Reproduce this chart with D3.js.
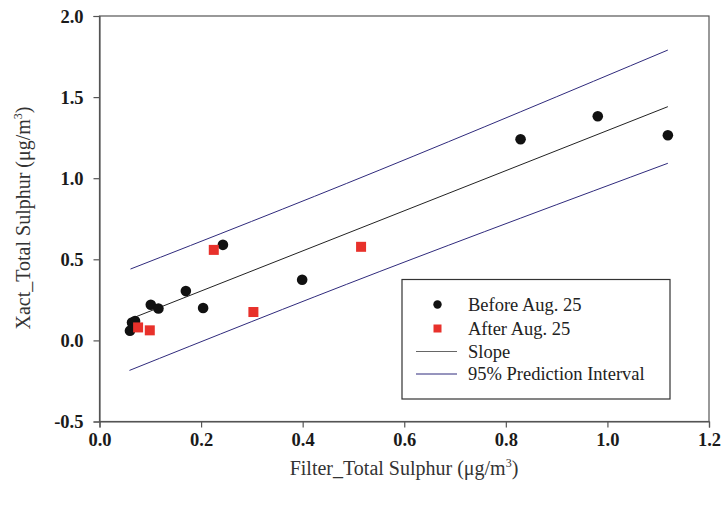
<!DOCTYPE html>
<html><head><meta charset="utf-8">
<script src="https://cdn.jsdelivr.net/npm/d3@7"></script>
<style>body{margin:0;background:#fff}svg{display:block}</style>
</head><body>
<svg id="c" width="724" height="506"></svg>
<script>
// Data
const beforeX = [0.060, 0.064, 0.070, 0.101, 0.116, 0.170, 0.204, 0.243, 0.399, 0.829, 0.981, 1.119];
const beforeY = [0.060, 0.110, 0.120, 0.220, 0.197, 0.304, 0.200, 0.589, 0.374, 1.240, 1.382, 1.265];
const afterX = [0.076, 0.099, 0.225, 0.303, 0.515];
const afterY = [0.080, 0.062, 0.558, 0.175, 0.577];
const slopeX = [0.059, 1.119];
const slopeY = [0.130, 1.441];
const upperX = [0.061, 0.552, 1.119];
const upperY = [0.440, 1.051, 1.790];
const lowerX = [0.059, 0.552, 1.119];
const lowerY = [-0.185, 0.425, 1.092];
const xTicks = [0.0, 0.2, 0.4, 0.6, 0.8, 1.0, 1.2];
const yTicks = [-0.5, 0.0, 0.5, 1.0, 1.5, 2.0];
const legendLabels = ["Before Aug. 25", "After Aug. 25", "Slope", "95% Prediction Interval"];

const svg = d3.select("#c");
const L = 99.5, R = 709, T = 16, B = 421.5;
const x = d3.scaleLinear().domain([0, 1.2]).range([L, R]);
const y = d3.scaleLinear().domain([-0.5, 2.0]).range([B, T]);
const serif = "'Liberation Serif','Times New Roman',serif";
const red = "#e8312b", navy = "#2f2a7c", gray = "#333";
const fmt = d => d.toFixed(1);

// frame
svg.append("rect").attr("x", L).attr("y", T).attr("width", R - L).attr("height", B - T)
  .attr("fill", "none").attr("stroke", "#555").attr("stroke-width", 1.2);

const xAxis = svg.append("g").attr("transform", `translate(0,${B})`)
  .call(d3.axisBottom(x).tickValues(xTicks).tickFormat(fmt).tickSize(6).tickPadding(5));
const yAxis = svg.append("g").attr("transform", `translate(${L},0)`)
  .call(d3.axisLeft(y).tickValues(yTicks).tickFormat(fmt).tickSize(6).tickPadding(10));
[xAxis, yAxis].forEach(g => {
  g.select(".domain").attr("stroke", "#555").attr("stroke-width", 1.2);
  g.selectAll(".tick line").attr("stroke", "#555").attr("stroke-width", 1.2);
  g.selectAll("text").attr("font-family", serif).attr("font-size", 18.5)
    .attr("font-weight", "bold").attr("fill", "#1a1a1a");
});
yAxis.selectAll(".tick text").attr("dy", "0.34em");

// lines
const line = d3.line().x(d => x(d[0])).y(d => y(d[1]));
const lineC = d3.line().x(d => x(d[0])).y(d => y(d[1])).curve(d3.curveNatural);
svg.append("path").attr("d", lineC(upperX.map((v, i) => [v, upperY[i]])))
  .attr("fill", "none").attr("stroke", navy).attr("stroke-width", 1);
svg.append("path").attr("d", lineC(lowerX.map((v, i) => [v, lowerY[i]])))
  .attr("fill", "none").attr("stroke", navy).attr("stroke-width", 1);
svg.append("path").attr("d", line(slopeX.map((v, i) => [v, slopeY[i]])))
  .attr("fill", "none").attr("stroke", "#222").attr("stroke-width", 1);

// points
svg.append("g").selectAll("circle").data(beforeX.map((v, i) => [v, beforeY[i]])).join("circle")
  .attr("cx", d => x(d[0])).attr("cy", d => y(d[1])).attr("r", 5.3).attr("fill", "#111");
const sq = 10;
svg.append("g").selectAll("rect").data(afterX.map((v, i) => [v, afterY[i]])).join("rect")
  .attr("x", d => x(d[0]) - sq / 2).attr("y", d => y(d[1]) - sq / 2)
  .attr("width", sq).attr("height", sq).attr("fill", red);

// legend
const lg = svg.append("g");
lg.append("rect").attr("x", 402).attr("y", 279.5).attr("width", 268).attr("height", 119.5)
  .attr("fill", "#fff").attr("stroke", "#333").attr("stroke-width", 1.2);
const rowY = [304.5, 328.5, 351.5, 374];
lg.append("circle").attr("cx", 437.5).attr("cy", rowY[0]).attr("r", 4.2).attr("fill", "#111");
lg.append("rect").attr("x", 433.5).attr("y", rowY[1] - 4).attr("width", 8).attr("height", 8).attr("fill", red);
lg.append("line").attr("x1", 416).attr("x2", 457).attr("y1", rowY[2]).attr("y2", rowY[2]).attr("stroke", "#666");
lg.append("line").attr("x1", 416).attr("x2", 457).attr("y1", rowY[3]).attr("y2", rowY[3]).attr("stroke", navy);
lg.selectAll("text").data(legendLabels).join("text")
  .attr("x", 468).attr("y", (d, i) => rowY[i]).attr("dy", "0.33em")
  .attr("font-family", serif).attr("font-size", 18.5).attr("fill", "#222").text(d => d);

// axis titles
const xt = svg.append("text").attr("x", 404).attr("y", 475).attr("text-anchor", "middle")
  .attr("font-family", serif).attr("font-size", 20).attr("fill", gray);
xt.append("tspan").text("Filter_Total Sulphur (\u03bcg/m");
xt.append("tspan").attr("font-size", 12).attr("dy", -8).text("3");
xt.append("tspan").attr("dy", 8).text(")");

const yt = svg.append("text").attr("transform", "translate(30,218) rotate(-90)").attr("text-anchor", "middle")
  .attr("font-family", serif).attr("font-size", 20).attr("fill", gray);
yt.append("tspan").text("Xact_Total Sulphur (\u03bcg/m");
yt.append("tspan").attr("font-size", 12).attr("dy", -8).text("3");
yt.append("tspan").attr("dy", 8).text(")");
</script>
</body></html>
